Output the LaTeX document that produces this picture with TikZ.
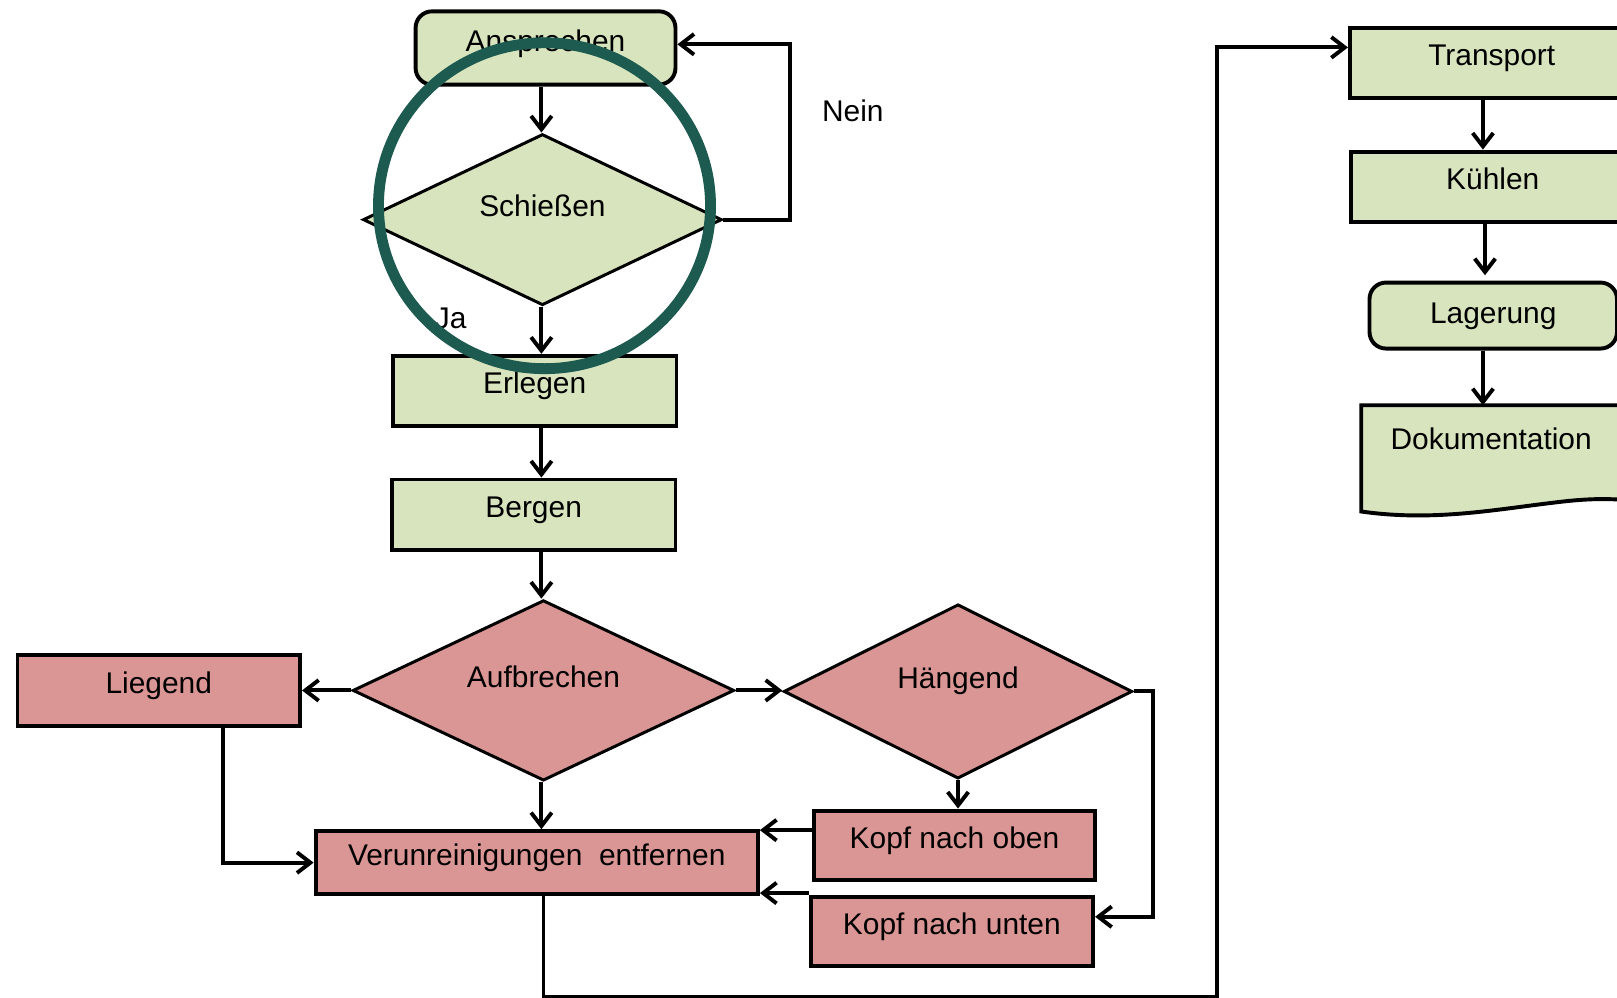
\documentclass[tikz,border=0pt]{standalone}
\usepackage{fontspec}
\setmainfont{Liberation Sans}
\usetikzlibrary{shapes.geometric,arrows.meta}
\definecolor{gfill}{HTML}{D7E4BD}
\definecolor{rfill}{HTML}{D99694}
\definecolor{ring}{HTML}{1D5A50}
\begin{document}
\begin{tikzpicture}[x=0.5pt,y=-0.5pt,
  font=\fontsize{14.5pt}{17pt}\selectfont,
  sz/.style 2 args={minimum width=#1*0.5pt, minimum height=#2*0.5pt},
  box/.style={draw=black, line width=1.9pt, rectangle, inner sep=0pt, text height=10pt, text depth=7pt},
  gbox/.style={box, fill=gfill},
  rbox/.style={box, fill=rfill},
  dia/.style={draw=black, line width=1.45pt, diamond, aspect=2, inner sep=0pt, text height=10pt, text depth=13pt},
  arr/.style={line width=1.9pt, -{Straight Barb[length=6.5pt,width=10pt]}},
  lbl/.style={inner sep=0pt}
]
\useasboundingbox (0,0) rectangle (1568,967);
\clip (0,0) rectangle (1568,967);

% left column
\node[gbox, rounded corners=8pt, sz={252}{71}] (ansp) at (529,46.5) {Ansprechen};
\node[dia, fill=gfill, sz={348}{166}] (schiess) at (526,213) {Schießen};
\node[gbox, sz={275}{68}] (erl) at (518.5,379) {Erlegen};
\node[gbox, sz={275}{68}] (berg) at (517.5,499) {Bergen};
\node[dia, fill=rfill, sz={370}{175}] (aufb) at (527,669.5) {Aufbrechen};
\node[rbox, sz={274}{69}] (lieg) at (154,669.5) {Liegend};
\node[dia, fill=rfill, sz={338}{169}] (haeng) at (929,670.5) {Hängend};
\node[rbox, sz={273}{67}] (koben) at (925.5,819.5) {Kopf nach oben};
\node[rbox, sz={274}{67}] (kunten) at (923,903.5) {Kopf nach unten};
\node[rbox, sz={429}{61}] (verun) at (520.5,836.5) {Verunreinigungen~~entfernen};
\coordinate (axis) at (525,0);

% right column
\node[gbox, sz={275}{68}] (trans) at (1446.5,61) {Transport};
\node[gbox, sz={275}{68}] (kuehl) at (1447.5,181) {Kühlen};
\node[gbox, rounded corners=8pt, sz={240}{64}, text depth=2pt] (lager) at (1448,306) {Lagerung};
\draw[line width=1.9pt, fill=gfill] (1320,393) -- (1320,496)
  .. controls (1390,506) and (1450,494) .. (1510,487)
  .. controls (1550,482) and (1575,484) .. (1590,487) -- (1590,393) -- cycle;
\node[lbl, anchor=north, minimum width=126pt, text height=21pt, text depth=30pt] (doku) at (1446,393) {Dokumentation};

% labels
\node[lbl] (ja) at (437,309) {Ja};
\node[lbl] (nein) at (827,107) {Nein};

% connectors
\draw[arr] (ansp.south -| axis) -- (schiess.north -| axis);
\draw[arr] (schiess.south -| axis) -- (erl.north -| axis);
\draw[arr] (erl.south -| axis) -- (berg.north -| axis);
\draw[arr] (berg.south -| axis) -- (aufb.north -| axis);
\draw[arr] (aufb.west) -- (lieg.east);
\draw[arr] (aufb.east) -- (aufb.east -| haeng.west);
\draw[arr] (aufb.south -| axis) -- (verun.north -| axis);
\draw[arr] (haeng.south) -- (haeng.south |- koben.north);
\draw[arr] ([xshift=31pt]lieg.south) |- (verun.west);
\draw[arr] ([yshift=7.25pt]koben.west) -- ([yshift=7.25pt]koben.west -| verun.east);
\draw[arr] ([yshift=18.75pt]kunten.west) -- ([yshift=18.75pt]kunten.west -| verun.east);
\draw[arr] (haeng.east) -- ++(19,0) |- ([yshift=7.25pt]kunten.east);
\draw[arr] ([xshift=3.25pt]verun.south) -- ++(0,98) -| ([xshift=-63.5pt,yshift=7.5pt]trans.west) -- ([yshift=7.5pt]trans.west);
\draw[arr] (schiess.east) -- ++(65,0) |- ([yshift=1.75pt]ansp.east);
\draw[arr] ([xshift=-4.25pt]trans.south) -- ([xshift=-4.25pt]trans.south |- kuehl.north);
\draw[arr] ([xshift=-3.75pt]kuehl.south) -- ++(0,50);
\draw[arr] ([xshift=-5pt]lager.south) -- ([xshift=-5pt]lager.south |- doku.north);

% highlight ring
\draw[ring, line width=5.25pt] (528,199.5) ellipse [x radius=80.5pt, y radius=79pt];
\end{tikzpicture}
\end{document}
